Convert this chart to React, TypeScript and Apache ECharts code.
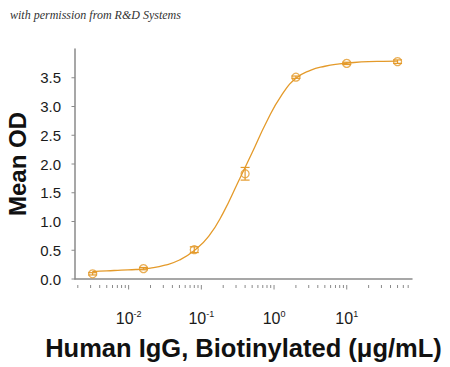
import React, { useEffect, useRef } from 'react';
import * as echarts from 'echarts';

// Measured data points (concentration in µg/mL, mean OD, error)
const concentrations = [50, 10, 2, 0.4, 0.08, 0.016, 0.0032];
const meanOD = [3.78, 3.75, 3.51, 1.83, 0.51, 0.18, 0.09];
const errOD = [0.03, 0.02, 0.02, 0.11, 0.05, 0.02, 0.02];

// Fitted curve
const curveX = [0.00316, 0.00501, 0.00794, 0.0126, 0.02, 0.0316, 0.0501, 0.0794, 0.126, 0.2, 0.316, 0.501, 0.794, 1.26, 2.0, 3.16, 5.01, 7.94, 12.6, 20.0, 31.6, 50.1];
const curveY = [0.13, 0.14, 0.155, 0.165, 0.19, 0.24, 0.33, 0.49, 0.74, 1.15, 1.67, 2.2, 2.74, 3.19, 3.49, 3.63, 3.7, 3.74, 3.765, 3.78, 3.785, 3.79];

// Axis ticks
const yTicks = [0, 0.5, 1, 1.5, 2, 2.5, 3, 3.5];
const xMajorTicks = [0.01, 0.1, 1, 10];
const xMinorTicks = [
  0.002, 0.003, 0.004, 0.005, 0.006, 0.007, 0.008, 0.009,
  0.02, 0.03, 0.04, 0.05, 0.06, 0.07, 0.08, 0.09,
  0.2, 0.3, 0.4, 0.5, 0.6, 0.7, 0.8, 0.9,
  2, 3, 4, 5, 6, 7, 8, 9,
  20, 30, 40, 50, 60, 70,
];

const X_MIN = 0.00183;
const X_MAX = 79;
const Y_MIN = 0;
const Y_MAX = 4;
const X_AXIS_OFFSET = 6;

const ORANGE = '#E49A2A';
const AXIS = '#8a8a8a';
const LABEL = '#1a1a1a';
const NARROW = '"Liberation Sans Narrow", "Liberation Sans", Arial, sans-serif';
const BOLD = '"Liberation Sans", Arial, sans-serif';

export default function App() {
  const ref = useRef<HTMLDivElement>(null);

  useEffect(() => {
    if (!ref.current) return;
    const chart = echarts.init(ref.current, undefined, { renderer: 'svg' });

    const option: any = {
      animation: false,
      backgroundColor: '#ffffff',
      graphic: [
        {
          type: 'text',
          left: 10,
          top: 9,
          style: {
            text: 'with permission from R&D Systems',
            font: 'italic 12px "Liberation Serif", serif',
            fill: '#333333',
          },
        },
      ],
      grid: {
        left: 75,
        right: 38,
        top: 49,
        bottom: 88,
        containLabel: false,
        outerBoundsMode: 'none',
      },
      xAxis: {
        type: 'log',
        logBase: 10,
        min: X_MIN,
        max: X_MAX,
        offset: X_AXIS_OFFSET,
        name: 'Human IgG, Biotinylated (\u03bcg/mL)',
        nameLocation: 'middle',
        nameGap: 50,
        nameTextStyle: {
          fontFamily: BOLD,
          fontWeight: 'bold',
          fontSize: 25.5,
          color: '#111111',
        },
        axisLine: { show: true, lineStyle: { color: AXIS, width: 1.5 } },
        axisTick: { show: false },
        minorTick: { show: false },
        splitLine: { show: false },
        axisLabel: {
          margin: 24,
          formatter: (v: number) => {
            const l = Math.log10(v);
            const r = Math.round(l);
            if (Math.abs(l - r) > 1e-6) return '';
            return '{b|10}{s|' + r + '}';
          },
          rich: {
            b: { fontFamily: NARROW, fontSize: 16, color: LABEL, lineHeight: 18 },
            s: { fontFamily: NARROW, fontSize: 9, color: LABEL, verticalAlign: 'top', lineHeight: 10 },
          },
        },
      },
      yAxis: {
        type: 'value',
        min: Y_MIN,
        max: Y_MAX,
        interval: 0.5,
        name: 'Mean OD',
        nameLocation: 'middle',
        nameGap: 42,
        nameTextStyle: {
          fontFamily: BOLD,
          fontWeight: 'bold',
          fontSize: 24,
          color: '#111111',
        },
        axisLine: { show: true, lineStyle: { color: AXIS, width: 1.5 } },
        axisTick: { show: false },
        splitLine: { show: false },
        axisLabel: {
          margin: 14,
          showMaxLabel: false,
          fontFamily: NARROW,
          fontSize: 15,
          color: LABEL,
          formatter: (v: number) => (v >= Y_MAX - 1e-9 ? '' : v.toFixed(1)),
        },
      },
      series: [
        {
          type: 'line',
          data: curveX.map((x, i) => [x, curveY[i]]),
          showSymbol: false,
          smooth: 0.5,
          lineStyle: { color: ORANGE, width: 1.3 },
          z: 2,
        },
        {
          type: 'custom',
          data: concentrations.map((x, i) => [x, meanOD[i] - errOD[i], meanOD[i] + errOD[i]]),
          clip: false,
          z: 3,
          renderItem: (params: any, api: any) => {
            const x = api.value(0);
            const lo = api.coord([x, api.value(1)]);
            const hi = api.coord([x, api.value(2)]);
            const hw = 4.5;
            const st = { stroke: ORANGE, lineWidth: 1.2 };
            return {
              type: 'group',
              children: [
                { type: 'line', shape: { x1: lo[0], y1: lo[1], x2: hi[0], y2: hi[1] }, style: st },
                { type: 'line', shape: { x1: lo[0] - hw, y1: lo[1], x2: lo[0] + hw, y2: lo[1] }, style: st },
                { type: 'line', shape: { x1: hi[0] - hw, y1: hi[1], x2: hi[0] + hw, y2: hi[1] }, style: st },
              ],
            };
          },
        },
        {
          type: 'scatter',
          data: concentrations.map((x, i) => [x, meanOD[i]]),
          symbol: 'circle',
          symbolSize: 8,
          itemStyle: { color: 'rgba(255,255,255,0)', borderColor: ORANGE, borderWidth: 1.3 },
          z: 4,
        },
        {
          type: 'custom',
          data: [
            ...xMajorTicks.map((v) => [v, 1]),
            ...xMinorTicks.map((v) => [v, 0]),
          ],
          clip: false,
          silent: true,
          renderItem: (params: any, api: any) => {
            const p = api.coord([api.value(0), Y_MIN]);
            const y = p[1] + X_AXIS_OFFSET;
            const len = api.value(1) ? 4.5 : 3;
            return {
              type: 'line',
              shape: { x1: p[0], y1: y, x2: p[0], y2: y + len },
              style: { stroke: AXIS, lineWidth: 1 },
            };
          },
        },
        {
          type: 'custom',
          data: yTicks.map((v) => [X_MIN, v]),
          clip: false,
          silent: true,
          renderItem: (params: any, api: any) => {
            const p = api.coord([X_MIN, api.value(1)]);
            return {
              type: 'line',
              shape: { x1: p[0] - 3.5, y1: p[1], x2: p[0], y2: p[1] },
              style: { stroke: AXIS, lineWidth: 1 },
            };
          },
        },
      ],
    };
    chart.setOption(option);
    return () => chart.dispose();
  }, []);

  return (
    <div
      ref={ref}
      style={{ position: 'fixed', left: 0, top: 0, width: 450, height: 367, background: '#fff' }}
    />
  );
}
